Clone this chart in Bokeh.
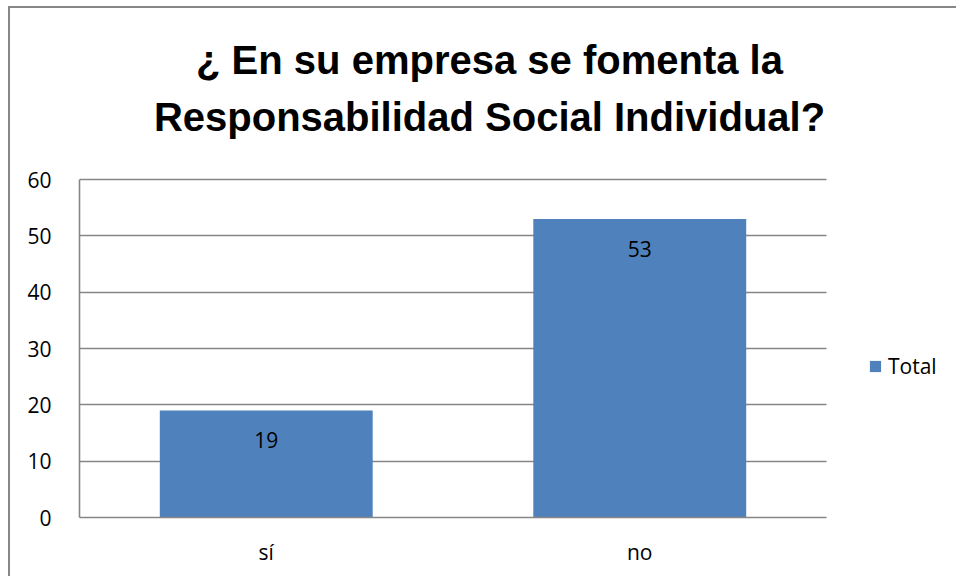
from bokeh.plotting import figure
from bokeh.models import (ColumnDataSource, LabelSet, Label, Legend, LegendItem,
                          FixedTicker, Range1d)
from bokeh.embed import file_html
from bokeh.resources import INLINE
from bokeh.core.properties import value

# ---- data ----
title_lines = ["¿ En su empresa se fomenta la", "Responsabilidad Social Individual?"]
categories = ["sí", "no"]
totals = [19, 53]
series_name = "Total"
y_ticks = [0, 10, 20, 30, 40, 50, 60]

BAR = "#4F81BD"
GRID = "#868686"
FONT = "Open Sans"

# ---- layout (page pixels) ----
CANVAS_X0, CANVAS_Y0 = 10, 8          # canvas origin after CSS margin + border
W, H = 948, 570
FRAME_L, FRAME_B = 79, 517            # plot-area left / bottom
AXIS_R, AXIS_T = 826, 179             # where the category axis ends / where the top tick sits
FRAME_R, FRAME_T = CANVAS_X0 + W, CANVAS_Y0   # frame extended to hold title + legend

ncat = len(categories)
px_per_x = (AXIS_R - FRAME_L) / ncat
px_per_y = (FRAME_B - AXIS_T) / y_ticks[-1]
x_end = (FRAME_R - FRAME_L) / px_per_x
y_end = (FRAME_B - FRAME_T) / px_per_y

xs = [i + 0.5 for i in range(ncat)]
src = ColumnDataSource(dict(x=xs, val=totals, lbl=[str(v) for v in totals]))

p = figure(width=W, height=H,
           x_range=Range1d(0, x_end), y_range=Range1d(0, y_end),
           output_backend="svg", toolbar_location=None,
           min_border_left=FRAME_L - CANVAS_X0, min_border_right=0,
           min_border_top=0, min_border_bottom=CANVAS_Y0 + H - FRAME_B)
p.styles = {"margin-left": "8px", "margin-top": "6px",
            "border-left": "2px solid #878787", "border-top": "2px solid #878787"}
p.outline_line_color = None
p.background_fill_color = "white"
p.border_fill_color = "white"

r = p.vbar(x="x", top="val", width=0.57, source=src, fill_color=BAR, line_color=None)

labels = LabelSet(x="x", y="val", text="lbl", source=src, y_offset=-30,
                  text_align="center", text_baseline="middle",
                  text_font=value(FONT), text_font_size="21px", text_color="black")
p.add_layout(labels)

# axes
p.yaxis.ticker = FixedTicker(ticks=y_ticks)
p.yaxis.bounds = (y_ticks[0], y_ticks[-1])
p.xaxis.ticker = FixedTicker(ticks=xs)
p.xaxis.major_label_overrides = {x: c for x, c in zip(xs, categories)}
p.xaxis.bounds = (0, ncat)
for ax in (p.xaxis[0], p.yaxis[0]):
    ax.axis_line_color = GRID
    ax.axis_line_width = 1.6
    ax.major_tick_line_color = None
    ax.minor_tick_line_color = None
    ax.major_tick_out = 0
    ax.major_tick_in = 0
    ax.major_label_text_font = FONT
    ax.major_label_text_font_size = "21px"
    ax.major_label_text_color = "black"
p.yaxis.major_label_standoff = 28
p.xaxis.major_label_standoff = 20

p.xgrid.grid_line_color = None
p.ygrid.grid_line_color = GRID
p.ygrid.grid_line_width = 1.5
p.ygrid.ticker = FixedTicker(ticks=y_ticks)
p.ygrid.cross_bounds = (0, ncat)

# legend (inside the extended frame, right of the bars)
legend = Legend(items=[LegendItem(label=series_name, renderers=[r])],
                location=(868 - FRAME_L, 137), glyph_width=14, glyph_height=14,
                padding=0, margin=0, spacing=0, label_standoff=6,
                border_line_color=None, background_fill_alpha=0,
                label_text_font=FONT, label_text_font_size="21px",
                label_text_color="black")
p.add_layout(legend)

# title: two centred bold lines (positions = middle of capitals)
TITLE_CX = 489
for txt, mid_px in zip(title_lines, [59, 116]):
    p.add_layout(Label(x=(TITLE_CX - FRAME_L) / px_per_x,
                       y=(FRAME_B - mid_px) / px_per_y,
                       text=txt, text_align="center", text_baseline="middle",
                       text_font="Liberation Sans", text_font_style="bold",
                       text_font_size="40px", text_color="black"))

open("out.html", "w").write(file_html(p, INLINE))
